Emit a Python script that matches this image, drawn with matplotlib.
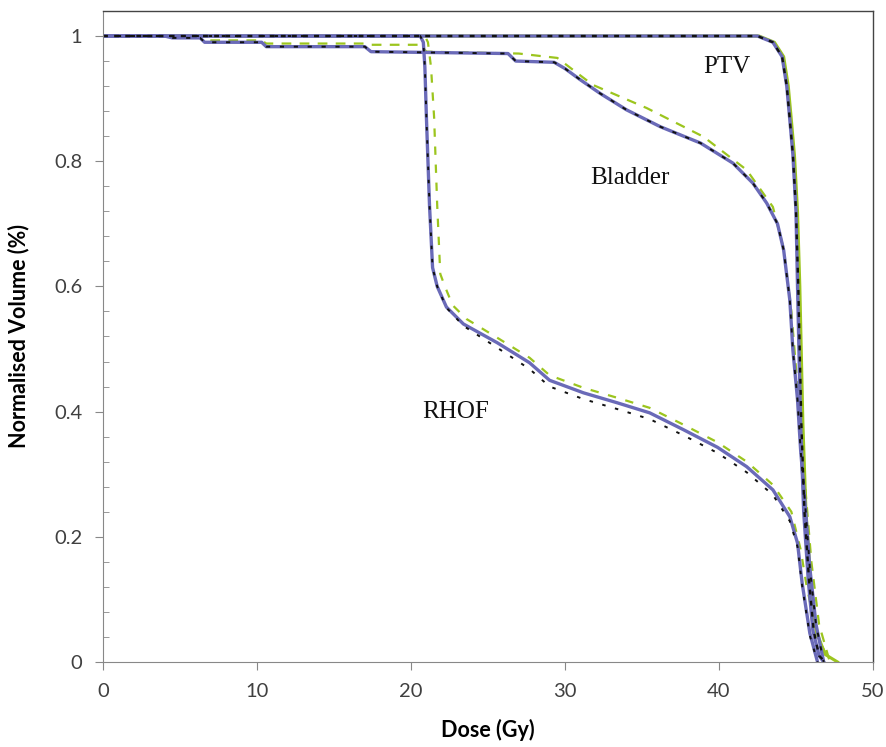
import matplotlib
matplotlib.use("Agg")
import matplotlib.pyplot as plt
from matplotlib.ticker import MultipleLocator, FixedLocator

# ---------------- data ----------------
ptv_dose_a = [0, 42.5, 43.5, 44.1, 44.4, 44.6, 44.8, 45.0, 45.1, 45.3, 45.5, 45.8, 46.1, 46.5, 46.8]
ptv_vol_a = [1, 1, 0.99, 0.967, 0.92, 0.866, 0.81, 0.72, 0.60, 0.38, 0.24, 0.13, 0.05, 0.01, 0]
ptv_dose_b = [0, 42.5, 43.5, 44.1, 44.4, 44.6, 44.8, 45.0, 45.15, 45.35, 45.55, 45.85, 46.15, 46.5, 46.9]
ptv_vol_b = [1, 1, 0.99, 0.967, 0.92, 0.866, 0.81, 0.72, 0.60, 0.38, 0.24, 0.13, 0.05, 0.01, 0]
ptv_dose_c = [0, 42.6, 43.6, 44.2, 44.5, 44.7, 44.9, 45.1, 45.25, 45.45, 45.65, 45.95, 46.3, 46.9, 47.7]
ptv_vol_c = [1, 1, 0.99, 0.967, 0.92, 0.866, 0.81, 0.72, 0.60, 0.38, 0.24, 0.13, 0.05, 0.012, 0]

bladder_dose_a = [0, 4, 4.5, 6.3, 6.6, 10.3, 10.6, 17.0, 17.4, 26.3, 26.8, 29.3, 30.0, 31.0, 32.3,
                  34.0, 36.2, 38.8, 40.9, 42.2, 43.1, 43.8, 44.2, 44.6, 44.8, 45.1, 45.3, 45.6,
                  45.9, 46.3, 46.8]
bladder_vol_a = [1, 1, 0.997, 0.997, 0.99, 0.99, 0.983, 0.983, 0.975, 0.972, 0.96, 0.958, 0.948,
                 0.93, 0.908, 0.882, 0.855, 0.829, 0.797, 0.765, 0.733, 0.70, 0.658, 0.578, 0.498,
                 0.419, 0.339, 0.25, 0.15, 0.06, 0]
bladder_dose_c = [0, 4, 4.5, 6.3, 6.6, 10.3, 10.6, 17.0, 17.4, 20.6, 21.0, 27.0, 29.5, 31.8, 35.3,
                  39.0, 41.8, 43.5, 44.2, 44.7, 45.0, 45.3, 45.6, 46.0, 46.5, 47.2]
bladder_vol_c = [1, 1, 0.998, 0.998, 0.993, 0.993, 0.988, 0.988, 0.986, 0.986, 0.975, 0.972, 0.965,
                 0.922, 0.885, 0.839, 0.786, 0.727, 0.66, 0.56, 0.47, 0.38, 0.28, 0.16, 0.06, 0]

rhof_dose_a = [0, 20.6, 20.8, 20.9, 21.0, 21.2, 21.4, 21.7, 22.3, 23.4, 25.6, 27.7, 29.0, 31.2,
               33.4, 35.5, 37.7, 39.9, 41.8, 43.5, 44.6, 45.1, 45.4, 45.9, 46.4]
rhof_vol_a = [1, 1, 0.99, 0.95, 0.87, 0.73, 0.63, 0.60, 0.567, 0.54, 0.51, 0.478, 0.45, 0.43,
              0.414, 0.398, 0.371, 0.343, 0.312, 0.275, 0.232, 0.19, 0.126, 0.046, 0]
rhof_vol_b = [1, 1, 0.99, 0.95, 0.87, 0.73, 0.63, 0.60, 0.566, 0.537, 0.502, 0.468, 0.44, 0.42,
              0.404, 0.388, 0.362, 0.334, 0.303, 0.267, 0.225, 0.184, 0.122, 0.042, 0]
rhof_dose_c = [0, 20.9, 21.1, 21.3, 21.5, 21.7, 21.9, 22.2, 22.7, 23.6, 25.6, 27.7, 29.0, 31.2,
               33.4, 35.5, 37.7, 39.9, 41.8, 43.5, 44.7, 45.3, 45.7, 46.4, 47.2]
rhof_vol_c = [1, 1, 0.99, 0.95, 0.87, 0.73, 0.62, 0.60, 0.57, 0.548, 0.518, 0.486, 0.458, 0.438,
              0.422, 0.406, 0.379, 0.351, 0.32, 0.283, 0.24, 0.18, 0.12, 0.04, 0]

x_ticks = [0, 10, 20, 30, 40, 50]
y_ticks = [0, 0.2, 0.4, 0.6, 0.8, 1.0]
y_tick_labels = ["0", "0.2", "0.4", "0.6", "0.8", "1"]
labels = ["PTV", "Bladder", "RHOF"]
label_pos = [(40.5, 0.95), (34.2, 0.773), (22.9, 0.40)]

# ---------------- style ----------------
plt.rcParams["lines.scale_dashes"] = False
BLUE = "#6a6ab8"
GREEN = "#9cc51e"
BLACK = "#111111"

fig = plt.figure(figsize=(8.86, 7.47), dpi=100)
ax = fig.add_axes([0.1163, 0.1138, 0.869, 0.8715])

# green series
ax.plot(ptv_dose_c, ptv_vol_c, color=GREEN, lw=2.2)
ax.plot(bladder_dose_c, bladder_vol_c, color=GREEN, lw=1.6, dashes=(7, 6))
ax.plot(rhof_dose_c, rhof_vol_c, color=GREEN, lw=1.6, dashes=(6, 7))
# blue solid series
ax.plot(ptv_dose_a, ptv_vol_a, color=BLUE, lw=2.4)
ax.plot(bladder_dose_a, bladder_vol_a, color=BLUE, lw=2.4)
ax.plot(rhof_dose_a, rhof_vol_a, color=BLUE, lw=2.4)
# black dashed series
ax.plot(ptv_dose_b, ptv_vol_b, color=BLACK, lw=1.7, dashes=(3.5, 4.5))
ax.plot(bladder_dose_a, bladder_vol_a, color=BLACK, lw=1.4, dashes=(3, 7))
ax.plot(rhof_dose_a, rhof_vol_b, color=BLACK, lw=1.4, dashes=(2.5, 7))

for t, (x, y) in zip(labels, label_pos):
    ax.text(x, y, t, fontsize=18, family="Liberation Serif", ha="center", va="center",
            color="#111111")

ax.set_xlim(0, 50)
ax.set_ylim(0, 1.04)
ax.xaxis.set_major_locator(FixedLocator(x_ticks))
ax.yaxis.set_major_locator(FixedLocator(y_ticks))
ax.set_yticklabels(y_tick_labels)
ax.yaxis.set_minor_locator(MultipleLocator(0.04))

for s in ["left", "bottom"]:
    ax.spines[s].set_color("#888888")
for s in ["top", "right"]:
    ax.spines[s].set_color("#444444")
    ax.spines[s].set_linewidth(1.0)

ax.tick_params(axis="both", which="major", direction="out", length=6, color="#888888",
               labelsize=14.5, labelcolor="#404040", pad=9)
ax.tick_params(axis="y", which="minor", direction="in", length=4, color="#888888")
for lab in ax.get_xticklabels() + ax.get_yticklabels():
    lab.set_family("Lato")

ax.set_xlabel("Dose (Gy)", fontsize=15.5, fontweight="bold", family="Lato", labelpad=14)
ax.set_ylabel("Normalised Volume (%)", fontsize=15.5, fontweight="bold", family="Lato", labelpad=18)

fig.savefig("out.png", dpi=100)
